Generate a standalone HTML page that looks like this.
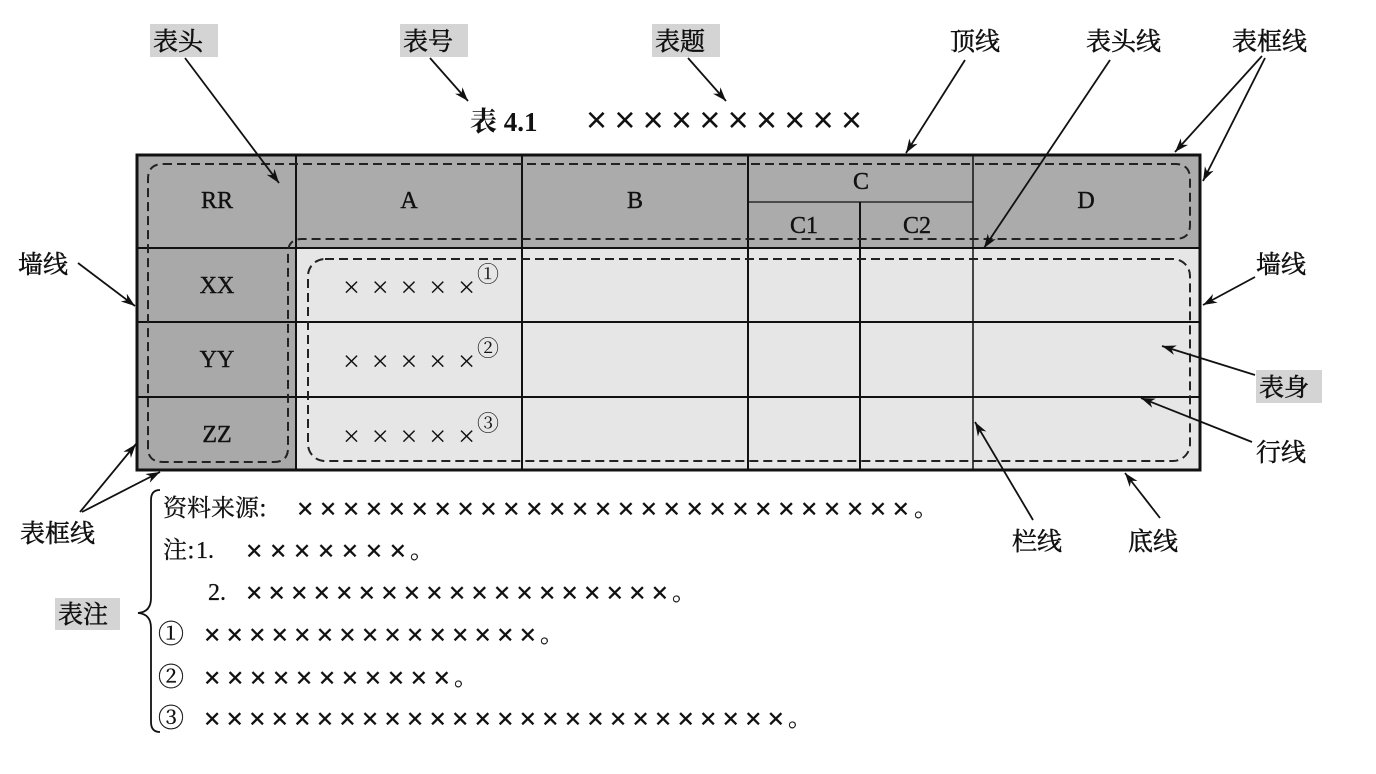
<!DOCTYPE html>
<html><head><meta charset="utf-8"><style>
html,body{margin:0;padding:0;background:#fff;}
svg{display:block;}
text{font-family:"Liberation Serif","Noto Serif CJK SC",serif;fill:#111;}
.cj{font-family:"Noto Serif CJK SC","Noto Sans CJK SC",serif;}
.x{font-family:"Liberation Sans","DejaVu Sans",sans-serif;}
</style></head><body>
<svg width="1376" height="774" viewBox="0 0 1376 774" xmlns="http://www.w3.org/2000/svg">
<defs>
<marker id="b" viewBox="0 0 10 10" refX="10" refY="5" markerWidth="14" markerHeight="14" orient="auto" markerUnits="userSpaceOnUse"><path d="M0,1.5 L10,5 L0,8.5 L3,5 z" fill="#111"/></marker>
</defs>
<rect x="137" y="155" width="1063" height="93" fill="#ababab"/>
<rect x="137" y="248" width="159" height="222" fill="#a9a9a9"/>
<rect x="296" y="248" width="904" height="222" fill="#e6e6e6"/>
<g stroke="#111" stroke-width="2" fill="none">
<line x1="137" y1="248" x2="1200" y2="248"/>
<line x1="137" y1="322" x2="1200" y2="322"/>
<line x1="137" y1="397" x2="1200" y2="397"/>
<line x1="296" y1="155" x2="296" y2="470"/>
<line x1="522" y1="155" x2="522" y2="470"/>
<line x1="748" y1="155" x2="748" y2="470"/>
<line x1="860" y1="202" x2="860" y2="470"/>
<line x1="973" y1="155" x2="973" y2="470" stroke-width="1.5"/>
<line x1="748" y1="202" x2="973" y2="202" stroke-width="1.2"/>
<rect x="137" y="155" width="1063" height="315" stroke-width="3"/>
</g>
<g stroke="#222" stroke-width="2" fill="none" stroke-dasharray="9,5">
<path d="M163,164 H1175 Q1190,164 1190,179 V225 Q1190,239 1175,239 H302 Q288,239 288,253 V448 Q288,462 274,462 H163 Q148,462 148,448 V179 Q148,164 163,164 Z"/>
<rect x="308" y="259" width="882" height="202" rx="17"/>
</g>
<g font-size="24" text-anchor="middle" stroke="#111" stroke-width="0.4">
<text x="217" y="208">RR</text><text x="409" y="208">A</text><text x="635" y="208">B</text>
<text x="861" y="189">C</text><text x="804" y="233">C1</text><text x="917" y="233">C2</text>
<text x="1086" y="208">D</text>
<text x="217" y="293">XX</text><text x="217" y="367">YY</text><text x="217" y="442">ZZ</text>
</g>
<g font-size="30" class="x">
<text x="343" y="297" textLength="132">×××××</text>
<text x="343" y="371" textLength="132">×××××</text>
<text x="343" y="446" textLength="132">×××××</text>
</g>
<g font-size="22"><text x="477" y="282">①</text><text x="477" y="356">②</text><text x="477" y="431">③</text></g>
<text x="470" y="131" font-size="27" font-weight="bold" class="cj">表 <tspan font-family="Liberation Serif">4.1</tspan></text>
<text x="586" y="132" font-size="36" class="x" textLength="276">××××××××××</text>
<g fill="#d4d4d4">
<rect x="150" y="24" width="68" height="33"/><rect x="400" y="24" width="68" height="33"/><rect x="652" y="24" width="68" height="33"/>
<rect x="1256" y="370" width="66" height="33"/><rect x="55" y="598" width="65" height="32"/>
</g>
<g font-size="25" class="cj" stroke="#111" stroke-width="0.5">
<text x="153" y="50">表头</text><text x="403" y="50">表号</text><text x="655" y="50">表题</text>
<text x="950" y="50">顶线</text><text x="1086" y="50">表头线</text><text x="1232" y="50">表框线</text>
<text x="18" y="273">墙线</text><text x="1256" y="273">墙线</text>
<text x="1259" y="396">表身</text><text x="1256" y="461">行线</text>
<text x="1012" y="550">栏线</text><text x="1128" y="550">底线</text>
<text x="20" y="542">表框线</text><text x="58" y="623">表注</text>
</g>
<g stroke="#111" stroke-width="1.8" fill="none" marker-end="url(#b)">
<line x1="185" y1="58" x2="279" y2="183"/>
<line x1="430" y1="58" x2="468" y2="101"/>
<line x1="688" y1="58" x2="726" y2="101"/>
<line x1="965" y1="60" x2="906" y2="153"/>
<line x1="1110" y1="60" x2="984" y2="248"/>
<line x1="1262" y1="56" x2="1175" y2="152"/>
<line x1="1265" y1="58" x2="1203" y2="181"/>
<line x1="78" y1="263" x2="135" y2="306"/>
<line x1="1255" y1="277" x2="1203" y2="305"/>
<line x1="1255" y1="375" x2="1162" y2="346"/>
<line x1="1252" y1="442" x2="1141" y2="398"/>
<line x1="1033" y1="520" x2="975" y2="422"/>
<line x1="1160" y1="518" x2="1125" y2="473"/>
<line x1="80" y1="512" x2="136" y2="444"/>
<line x1="82" y1="512" x2="160" y2="472"/>
</g>
<path d="M160,490 Q151,490 151,500 V598 Q151,612 138,613 Q151,614 151,628 V722 Q151,732 160,732" stroke="#111" stroke-width="1.8" fill="none"/>
<g font-size="24" stroke="#111" stroke-width="0.3">
<text x="163" y="516" class="cj">资料来源:</text>
<text x="297" y="518" class="x" font-size="28" textLength="612">×××××××××××××××××××××××××××</text>
<text x="914" y="516" class="cj">。</text>
<text x="163" y="558" class="cj">注:</text><text x="196" y="558">1.</text>
<text x="246" y="560" class="x" font-size="28" textLength="160">×××××××</text><text x="410" y="558" class="cj">。</text>
<text x="208" y="600">2.</text>
<text x="246" y="602" class="x" font-size="28" textLength="422">×××××××××××××××××××</text><text x="672" y="600" class="cj">。</text>
<g font-size="26"><text x="158" y="643">①</text><text x="158" y="686">②</text><text x="158" y="727">③</text></g>
<text x="204" y="644" class="x" font-size="28" textLength="332">×××××××××××××××</text><text x="540" y="642" class="cj">。</text>
<text x="204" y="687" class="x" font-size="28" textLength="246">×××××××××××</text><text x="454" y="685" class="cj">。</text>
<text x="204" y="728" class="x" font-size="28" textLength="580">××××××××××××××××××××××××××</text><text x="788" y="726" class="cj">。</text>
</g>
</svg>
</body></html>
